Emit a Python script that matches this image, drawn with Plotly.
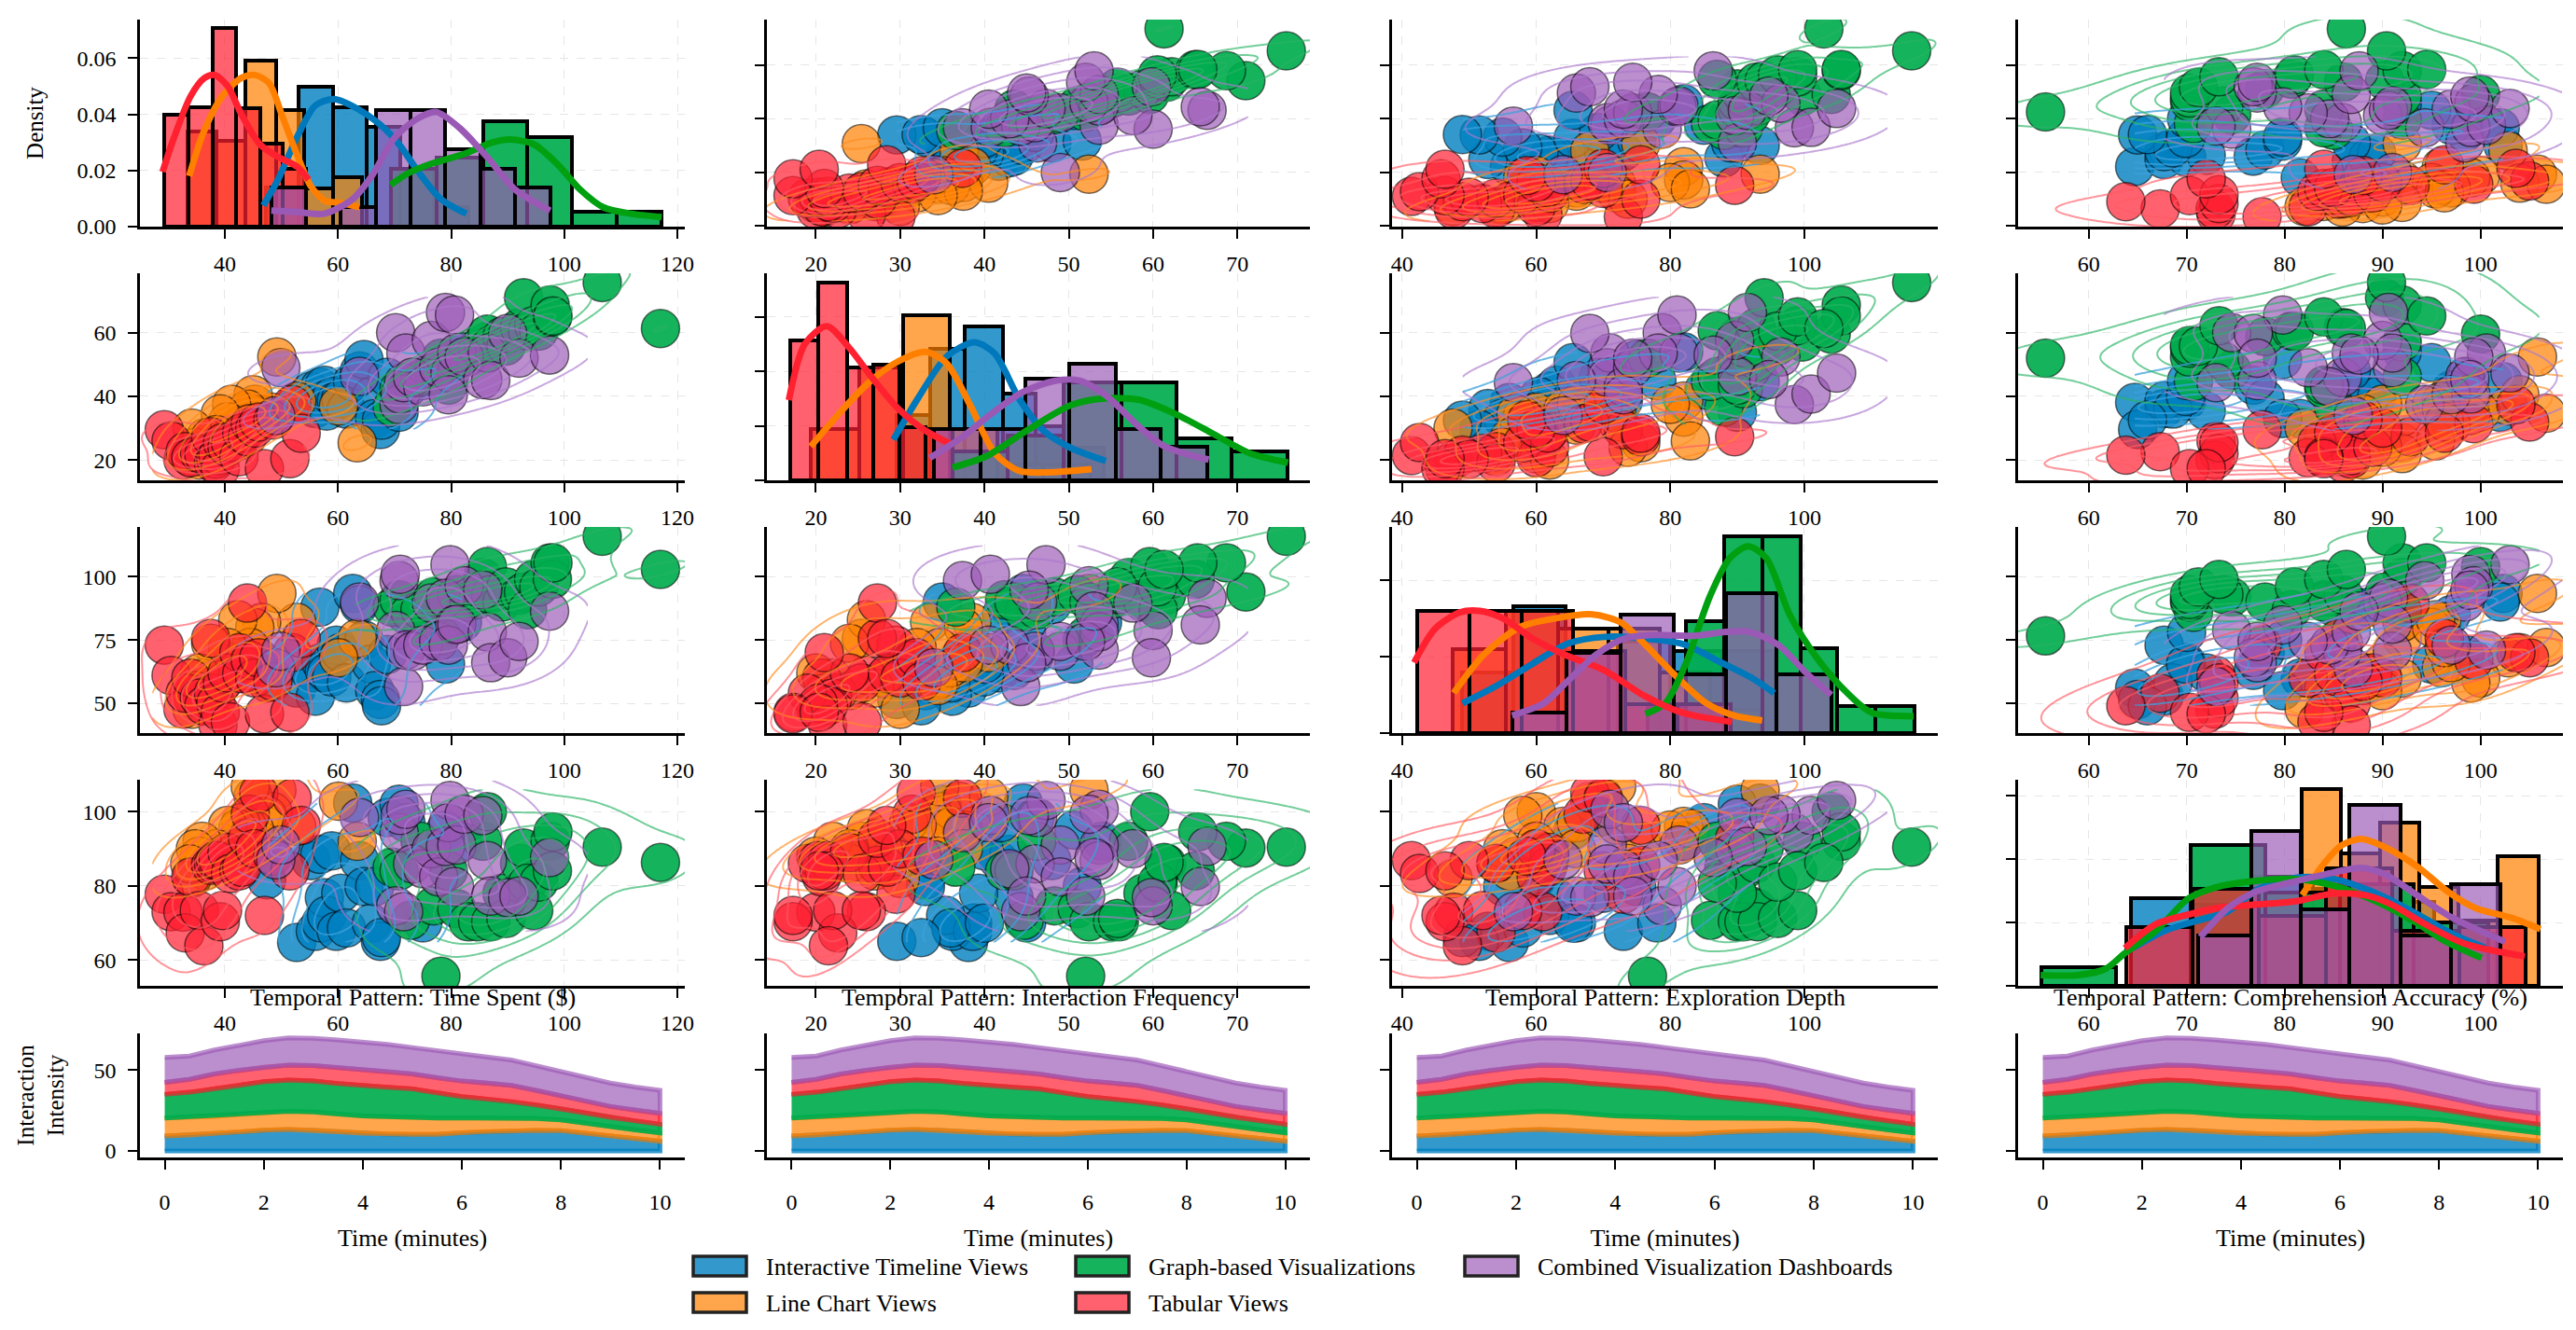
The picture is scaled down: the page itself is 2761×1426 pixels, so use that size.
import numpy as np
import plotly.graph_objects as go

W, H = 2761, 1426
FONT = "Liberation Serif"

# series order = draw order
names = ["blue", "orange", "green", "red", "purple"]
labels = {"blue": "Interactive Timeline Views", "orange": "Line Chart Views", "green": "Graph-based Visualizations",
          "red": "Tabular Views", "purple": "Combined Visualization Dashboards"}
fills = {"blue": "rgba(0,128,192,0.8)", "orange": "rgba(255,128,0,0.7)", "green": "rgba(0,172,78,0.92)",
         "red": "rgba(255,32,48,0.7)", "purple": "rgba(155,89,182,0.68)"}
lines = {"blue": "#0078BC", "orange": "#FF8000", "green": "#00A010", "red": "#FF2030", "purple": "#9B59B6"}
contour_colors = {"blue": "rgba(60,160,220,0.75)", "orange": "rgba(255,140,30,0.65)", "green": "rgba(40,180,100,0.65)",
                  "red": "rgba(255,90,100,0.65)", "purple": "rgba(170,120,205,0.65)"}
contour_cut = {"blue": 0, "orange": 1.5, "green": 1, "red": 1.5, "purple": 1}

# points, one row per session
blue_time = [47.4,52.7,55.2,56,56.8,57,57.6,58,58.9,59.7,60.5,61.5,62.6,63.8,64.6,65.9,66.5,67.5,67.7,68.7,70.8,72,75,79,82]
blue_freq = [33,38.1,41.7,36.2,42.9,38.6,43.5,35.4,40,38.6,39.3,36,44.6,48,51.6,40,33,29.6,32.5,46,35,42,45,50.6,54]
blue_depth = [60,56,62,52.8,88,66,63,62,60.4,73,70,58,93.4,89,75,65.5,55,51.5,49,69.3,90,85,78,65.5,82]
blue_acc = [81.6,64.7,86.8,67.7,88.5,70,76.8,72,89.4,67.7,78,68.6,102.3,86.8,79.8,69.9,79.8,65,66,98.4,102,97,70,95,92]

orange_time = [63.4,60.1,52.7,49.2,48.5,47.5,46.5,45.3,45,44.5,44,43.5,42.8,42.3,41.2,40.5,39.2,38.5,37.5,36.5,36,35.5,34.8,34.2,33.8]
orange_freq = [25.4,37,38.5,52.4,35,34,33.5,37.5,40.5,34.7,36,29,31,26,37.5,32,34.5,28,24,27,22,20,24,30,21]
orange_depth = [75.6,68,82,93.4,60,58,82,80,70,72,64,62,66,83,66,72,57,60,73.7,56,60,62,55,47.6,54]
orange_acc = [92,102.8,96,105.8,100,99,92,95,104,106.7,96,88,97,95.4,90,96.3,88,90,86,84,92,88,90,82,85.9]

green_time = [69.6,70.8,72.8,74.5,76.9,78.2,79.5,81,83,84.7,85.6,86.4,87,89,89.7,92.1,92.8,93.5,94.6,95.5,97.5,97.9,98,106.7,117]
green_freq = [36.6,42.4,44.7,46.2,48.3,52,43.5,51,52.4,55.2,57.1,59.6,56,58.8,55.8,61.6,71,60.6,62.2,60.5,68.7,65,65.3,75.8,61.3]
green_depth = [88,90.9,86,87,92,76.6,90,93,90,91,99.7,104,93,90,96,92.8,94,87,99,96,105.5,99,105.5,116,102.9]
green_acc = [85,84,70.7,92,74.6,55.6,84,73.8,70.3,70.3,92,100,70.3,78,71.2,86,90.2,80.7,73.3,81,92,84,94.5,90.4,86.3]

red_time = [29.3,30.5,32.6,33,34,35.5,36.3,37.5,38,38.4,38.8,39.2,39.6,40.4,41,42.5,43,44,44.5,45.3,46,47,48.5,51.5,51.9,53.5]
red_freq = [29.5,26,20,22.6,20.7,22,21.5,27.3,19,20.3,21.4,17.3,25.4,24,25.5,21,28.5,27.3,31.4,30,31.9,17.3,32.6,20.4,37.4,28.4]
red_depth = [73,61,47.7,54,60,52,49,75.6,54,50,41.4,46.4,58,62,42.6,70,61.7,89.6,67,60,68,45.8,58.6,46.4,70,75.6]
red_acc = [77.7,73,72.9,67.3,82.4,73.3,63.8,85.5,86,86.8,86.8,70.3,73.3,89,83.3,84,85,92.8,99.3,90,105,72,88,84,103.6,96.3]

purple_time = [49,49.9,63.8,70.2,70.8,71,71.6,72,73.2,75,76.5,77.8,79.8,79,80.6,79.5,81,82.3,85.6,86.4,87,90,92,97.4]
purple_freq = [34,49,46.3,60,37.4,40.7,44.3,53.6,46,43,57.6,49,47.3,66.4,65.6,40.5,53.6,52.4,45.3,53.6,45,59.8,52,53]
purple_depth = [64,70.6,90,78.8,98.5,101,56.6,71,70.6,73,89.6,74.4,104.8,91.5,81,73,81.3,96.5,94.7,78.2,66,68,74.4,86.4]
purple_acc = [87,91,98.4,74.6,94.3,99,73,100.6,85.9,84.6,90,82.4,103,90.6,79.8,97,91,99.3,98.9,86.8,77.2,76.8,77.2,87.6]

# histogram bars
time_blue_edges = [47.2,53.1,59.2,65,71,77,83]
time_blue_heights = [.0138,.0497,.0425,.0356,.0207,.0069]
time_orange_edges = [33.4,38.5,43.6,49,54,59.2,64.3]
time_orange_heights = [.034,.0305,.0592,.0415,.0135,.0175]
time_green_edges = [69.3,77.4,85.6,93.4,101.4,109.2,117.2]
time_green_heights = [.0207,.0247,.0374,.0318,.0052,.0052]
time_red_edges = [29.3,33.6,37.8,42,46.2,50.3,54.4]
time_red_heights = [.0398,.0425,.0706,.042,.0295,.0205]
time_purple_edges = [48.2,54.4,60.5,66.7,72.8,79,85.2,91.3,97.5]
time_purple_heights = [.0138,0,.0069,.0414,.0414,.0276,.0207,.0138]

freq_blue_edges = [29.6,33.6,37.7,42.2,46.1,50.1,54.2]
freq_blue_heights = [.0241,.0482,.0565,.0318,.02,.012]
freq_orange_edges = [19.4,25.1,30.3,35.9,41.5,47,52.6]
freq_orange_heights = [.0188,.0412,.0606,.0188,.0059,.0059]
freq_green_edges = [36.2,42.8,49.4,56.2,62.8,69.3,75.9]
freq_green_heights = [.0106,.0165,.0359,.0359,.0153,.0106]
freq_red_edges = [17,20.3,23.7,26.8,29.9,33,36.2]
freq_red_heights = [.0512,.0724,.0412,.0424,.0194,.0188]
freq_purple_edges = [34,39.5,44.8,50.1,55.6,60.9,66.4]
freq_purple_heights = [.0188,.0188,.0371,.0429,.0188,.0124]

depth_blue_edges = [48.9,56.6,64.4,72.2,80,87.7,95.5]
depth_blue_heights = [.016,.0332,.0214,.024,.0214,.0214]
depth_orange_edges = [47.6,55.5,63.3,70.8,78.4,85.9,93.4]
depth_orange_heights = [.0219,.032,.0273,.0273,.016,.0062]
depth_green_edges = [76.6,82.3,88,93.7,99.4,104.9,110.6,116.4]
depth_green_heights = [.0072,.0294,.0516,.0516,.0222,.0072,.0072]
depth_red_edges = [42.2,50,57.9,65.5,73.3,81.1,89]
depth_red_heights = [.032,.032,.032,.0214,.0075,.0075]
depth_purple_edges = [56.4,64.5,72.6,80.5,88.3,95.8,104]
depth_purple_heights = [.0054,.021,.0311,.0155,.0366,.0155]

acc_blue_edges = [64.3,70.5,76.7,82.9,89.1,95.3,101.5]
acc_blue_heights = [.0276,.0255,.0345,.0305,.0265,.0165]
acc_orange_edges = [81.7,85.7,89.7,93.7,97.7,101.7,105.9]
acc_orange_heights = [.062,.0418,.0514,.0311,.0205,.0408]
acc_green_edges = [55.2,62.8,70.4,78,85.6,93.2,100.8]
acc_green_heights = [.0058,0,.0443,.0295,.032,.02]
acc_red_edges = [63.8,70.6,77.4,84.2,91,97.8,104.6]
acc_red_heights = [.0184,.0306,.022,.0372,.0174,.0184]
acc_purple_edges = [71.2,76.6,81.6,86.6,91.8,97,102]
acc_purple_heights = [.0159,.0489,.024,.057,.0159,.0321]

# density curves
time_blue_kx = [46.8,49.4,52.7,56,59.3,63.4,67.5,70.8,74,78.2,82.7]
time_blue_ky = [.0075,.0167,.0316,.0431,.0454,.042,.0362,.0293,.0201,.0098,.0046]
time_orange_kx = [33.7,36.3,39.6,42.9,45.3,47.8,50.3,52.7,55.2,57.7,60.1,63.8]
time_orange_ky = [.018,.0339,.0466,.0529,.054,.0511,.0385,.0259,.0144,.0092,.0086,.0069]
time_green_kx = [69.3,72.4,76.5,82.3,87.2,90.5,94.6,98.7,102.8,106.9,111.8,117.2]
time_green_ky = [.0149,.019,.0224,.0259,.0299,.031,.0293,.0224,.0132,.0069,.0046,.0034]
time_red_kx = [29,31,34,36.4,38.2,40.5,43,46.2,49.5,52.8,54.8]
time_red_ky = [.0195,.0316,.0466,.0529,.054,.05,.0397,.0293,.0247,.0213,.0167]
time_purple_kx = [48.2,52.7,57.6,62.6,65.9,70,74.1,77.4,81.5,86.4,91.3,97.5]
time_purple_ky = [.0057,.0052,.0046,.0098,.0178,.0316,.0385,.0408,.0351,.0247,.0132,.0057]

freq_blue_kx = [29.2,32.1,35.5,38.8,41.2,44.1,47,50.3,54.4]
freq_blue_ky = [.0149,.03,.0453,.0506,.0465,.03,.0182,.0118,.0071]
freq_orange_kx = [19.4,23,26.3,29.7,33,35.5,38.3,41.2,44.1,47.4,52.7]
freq_orange_ky = [.0124,.0253,.0359,.0435,.0471,.0429,.0276,.01,.0035,.0029,.0041]
freq_green_kx = [36.2,40.2,45,50.3,54.2,58.5,62.8,67.1,71.4,76]
freq_green_ky = [.0047,.0088,.0182,.0276,.03,.0294,.0241,.0171,.01,.0065]
freq_red_kx = [16.8,18.7,21.3,23.9,26.8,29.7,33,35.9]
freq_red_ky = [.0294,.05,.0565,.0488,.0371,.0265,.0182,.0135]
freq_purple_kx = [33.5,37.4,40.7,44.6,48.4,51.3,54.6,58,61.4,66.6]
freq_purple_ky = [.0082,.0159,.0241,.0324,.0365,.0365,.0306,.0206,.0124,.0076]

depth_blue_kx = [49,53.9,59.4,64.8,70.2,76.3,82.3,87.1,91.9,95.5]
depth_blue_ky = [.0078,.0122,.0181,.0235,.0252,.0248,.0231,.0189,.0147,.0105]
depth_orange_kx = [47.7,52.2,57.6,62.4,68.4,72.6,76.3,80.5,85.3,89.5,93.7]
depth_orange_ky = [.0105,.0206,.0278,.0299,.0311,.029,.0231,.0155,.0079,.0046,.0033]
depth_green_kx = [76.3,79.3,82.3,85.9,88.9,91.6,94.3,97.9,102.2,106.4,110,116.3]
depth_green_ky = [.005,.0079,.0181,.0358,.0459,.0489,.0459,.0307,.0189,.0105,.0054,.0044]
depth_red_kx = [41.8,44.9,48.6,51.6,55.2,59.4,64.2,70.2,76.3,81.7,89.2]
depth_red_ky = [.0185,.0273,.0316,.032,.0299,.0248,.0206,.0164,.0096,.0054,.0029]
depth_purple_kx = [56.4,61.2,64.8,69,73.2,77.5,83.5,88.3,91.9,96.1,100.4,104]
depth_purple_ky = [.0046,.0079,.0138,.0206,.0248,.0257,.0255,.0265,.0265,.0231,.0155,.01]

acc_blue_kx = [64.5,67.8,71,74.2,77.4,81.4,85,89,93,97.1,100.5]
acc_blue_ky = [.0119,.0174,.0205,.0235,.0306,.0342,.0337,.0296,.0235,.0164,.0119]
acc_orange_kx = [81.8,83.8,85.8,87.8,90.2,93.5,96.7,99.5,103.1,106.1]
acc_orange_ky = [.0286,.0377,.0443,.0463,.0438,.0377,.0296,.0245,.0215,.0179]
acc_green_kx = [55.1,58.9,61.7,63.7,66.9,70.2,73,77,81,85,89,93.1,96.5,100.1]
acc_green_ky = [.0034,.0034,.0053,.0103,.0174,.0276,.0311,.0331,.0337,.0316,.0271,.0205,.0139,.0088]
acc_red_kx = [63.7,66.9,70.2,73,76.6,81,85,88.2,91,94.3,98.3,104.5]
acc_red_ky = [.0119,.0195,.0225,.0245,.0255,.0266,.0291,.0286,.0255,.0195,.0134,.0093]
acc_purple_kx = [71.4,74.2,77,80.6,84.2,87.8,90.2,93.5,97.1,102.5]
acc_purple_ky = [.0154,.0245,.0296,.0326,.0352,.0372,.0352,.0286,.0215,.0139]

# stacked temporal pattern, layer thickness per half minute
minutes = [0,.5,1,1.5,2,2.5,3,3.5,4,4.5,5,5.5,6,6.5,7,7.5,8,8.5,9,9.5,10]
blue_layer = [9.2,9.8,10.7,11.7,12.8,13.3,12.8,11.8,10.9,10.4,10.2,10.3,11.3,12.0,12.5,12.7,12.5,10.9,9.2,7.7,6.0]
orange_layer = [11.1,10.8,10.6,10.7,10.8,11.1,11.3,11.0,10.7,10.6,10.3,10.0,9.0,8.3,7.8,7.3,6.7,6.3,5.7,5.3,5.1]
green_layer = [14.6,15.6,17.0,18.2,19.1,19.3,19.0,18.8,18.6,18.3,17.8,15.5,13.2,11.7,10.2,8.4,6.8,6.1,5.8,5.5,5.4]
red_layer = [7.4,8.0,9.2,9.2,9.0,9.2,9.6,9.7,9.8,9.6,9.2,9.4,9.6,9.9,9.9,9.0,8.1,7.4,6.7,6.7,6.7]
purple_layer = [15.4,14.4,14.8,15.6,16.3,16.8,16.8,17.2,17.2,16.8,16.3,16.5,16.3,16.1,15.7,15.3,15.1,14.9,14.5,14.2,14.2]

pattern_titles = ["Temporal Pattern: Time Spent ($)", "Temporal Pattern: Interaction Frequency",
                  "Temporal Pattern: Exploration Depth", "Temporal Pattern: Comprehension Accuracy (%)"]

variables = ["time", "freq", "depth", "acc"]
x_ranges = {"time": [25, 121.3], "freq": [14.2, 78.6], "depth": [38.5, 119.9], "acc": [52.8, 108.4]}
y_ranges = {"time": [24.7, 121.3], "freq": [13.6, 78.7], "depth": [38.2, 119.7], "acc": [53, 108.6]}
x_ticks = {"time": [40,60,80,100,120], "freq": [20,30,40,50,60,70], "depth": [40,60,80,100], "acc": [60,70,80,90,100]}
y_ticks = {"time": [25,50,75,100], "freq": [20,40,60], "depth": [50,75,100], "acc": [60,80,100]}
diag_top = {"time": .0737, "freq": .0759, "depth": .054, "acc": .065}
diag_ticks = {"time": [0,.02,.04,.06], "freq": [0,.02,.04,.06], "depth": [0,.02,.04], "acc": [0,.02,.04,.06]}

lefts = [150, 822, 1492, 2163]
rights = [734, 1404, 2077, 2747]
tops = [21, 293, 565, 836, 1108]
bottoms = [243, 515, 786, 1057, 1241]


def scott_kde(xs, ys, cut, n=90):
    pts = np.array([xs, ys], float)
    f = pts.shape[1] ** (-1 / 6)
    cov = np.cov(pts) * f * f
    sx, sy = np.sqrt(cov[0, 0]), np.sqrt(cov[1, 1])
    gx = np.linspace(pts[0].min() - cut * sx, pts[0].max() + cut * sx, n)
    gy = np.linspace(pts[1].min() - cut * sy, pts[1].max() + cut * sy, n)
    xx, yy = np.meshgrid(gx, gy)
    inv = np.linalg.inv(cov)
    z = np.zeros_like(xx)
    for px, py in pts.T:
        dx, dy = xx - px, yy - py
        z += np.exp(-0.5 * (inv[0, 0] * dx * dx + 2 * inv[0, 1] * dx * dy + inv[1, 1] * dy * dy))
    return gx, gy, z


def axis_style(**kw):
    style = dict(showline=True, linecolor="black", linewidth=2.5, ticks="outside", ticklen=10, tickwidth=2,
                 tickcolor="black", zeroline=False, showgrid=True, gridcolor="#E6E6E6", gridwidth=1, griddash="dash",
                 tickfont=dict(family=FONT, size=24, color="black"), layer="above traces", automargin=False)
    style.update(kw)
    return style


fig = go.Figure()
layout = {}

for r in range(4):
    for c in range(4):
        n = r * 4 + c + 1
        vx, vy = variables[c], variables[r]
        xname, yname = f"x{n}" if n > 1 else "x", f"y{n}" if n > 1 else "y"
        xkey, ykey = f"xaxis{n}" if n > 1 else "xaxis", f"yaxis{n}" if n > 1 else "yaxis"
        xdom = [lefts[c] / W, rights[c] / W]
        ydom = [1 - bottoms[r] / H, 1 - tops[r] / H]
        is_diag = r == c
        yr = [0, diag_top[vx]] if is_diag else y_ranges[vy]
        yt = diag_ticks[vx] if is_diag else y_ticks[vy]
        show_y = c == 0 and (r > 0 or is_diag)
        layout[xkey] = axis_style(domain=xdom, range=x_ranges[vx], tickvals=x_ticks[vx], anchor=yname,
                                  ticklabelstandoff=6)
        layout[ykey] = axis_style(domain=ydom, range=yr, tickvals=yt, anchor=xname, showticklabels=show_y,
                                  ticklabelstandoff=8)
        if r == 0 and c == 0:
            layout[ykey]["tickformat"] = ".2f"
            layout[ykey]["title"] = dict(text="Density", font=dict(family=FONT, size=25, color="black"), standoff=29)
        if is_diag:
            for s in names:
                edges = np.array(globals()[f"{vx}_{s}_edges"])
                fig.add_trace(go.Bar(x=(edges[:-1] + edges[1:]) / 2, y=globals()[f"{vx}_{s}_heights"],
                                     width=np.diff(edges), xaxis=xname, yaxis=yname, showlegend=False,
                                     marker=dict(color=fills[s], line=dict(color="black", width=4))))
            for s in names:
                fig.add_trace(go.Scatter(x=globals()[f"{vx}_{s}_kx"], y=globals()[f"{vx}_{s}_ky"], mode="lines",
                                         line=dict(color=lines[s], width=7, shape="spline", smoothing=0.8),
                                         xaxis=xname, yaxis=yname, showlegend=False))
        else:
            for s in names:
                fig.add_trace(go.Scatter(x=globals()[f"{s}_{vx}"], y=globals()[f"{s}_{vy}"], mode="markers",
                                         marker=dict(size=41, color=fills[s], line=dict(color="rgba(0,0,0,0.55)", width=1.5)),
                                         xaxis=xname, yaxis=yname, showlegend=False))
            # contours have to sit above the markers, so they go on an overlay pair of axes
            on = n + 20
            layout[f"xaxis{on}"] = dict(domain=xdom, range=x_ranges[vx], overlaying=xname, anchor=f"y{on}", visible=False)
            layout[f"yaxis{on}"] = dict(domain=ydom, range=yr, overlaying=yname, anchor=f"x{on}", visible=False)
            for s in names:
                gx, gy, z = scott_kde(globals()[f"{s}_{vx}"], globals()[f"{s}_{vy}"], contour_cut[s])
                lo, hi = z.max() * 0.1, z.max() * 0.85
                fig.add_trace(go.Contour(x=gx, y=gy, z=z, xaxis=f"x{on}", yaxis=f"y{on}", showscale=False,
                                         colorscale=[[0, contour_colors[s]], [1, contour_colors[s]]],
                                         contours=dict(coloring="lines", start=lo, end=hi, size=(hi - lo) / 4),
                                         line=dict(width=2), hoverinfo="skip", showlegend=False))

# bottom row, the same stack four times
for c in range(4):
    n = 17 + c
    xname, yname = f"x{n}", f"y{n}"
    layout[f"xaxis{n}"] = axis_style(domain=[lefts[c] / W, rights[c] / W], range=[-0.5, 10.5], tickvals=[0,2,4,6,8,10],
                                     anchor=yname, ticklabelstandoff=14, showgrid=False,
                                     title=dict(text="Time (minutes)", font=dict(family=FONT, size=26, color="black"), standoff=18))
    layout[f"yaxis{n}"] = axis_style(domain=[1 - bottoms[4] / H, 1 - tops[4] / H], range=[-4, 72.5], tickvals=[0, 50],
                                     anchor=xname, showgrid=False, showticklabels=c == 0, ticklabelstandoff=8)
    if c == 0:
        layout[f"yaxis{n}"]["title"] = dict(text="Interaction<br>Intensity", font=dict(family=FONT, size=25, color="black"), standoff=25)
    base = np.zeros(len(minutes))
    for s in names:
        top = base + np.array(globals()[f"{s}_layer"])
        fig.add_trace(go.Scatter(x=minutes + minutes[::-1], y=list(top) + list(base[::-1]), mode="lines", fill="toself",
                                 fillcolor=fills[s], line=dict(color=fills[s], width=5), xaxis=xname, yaxis=yname,
                                 showlegend=False))
        base = top

annotations = []
for c, title in enumerate(pattern_titles):
    annotations.append(dict(text=title, xref="paper", yref="paper", x=(lefts[c] + rights[c]) / 2 / W, y=1 - 1069 / H,
                            showarrow=False, xanchor="center", yanchor="middle",
                            font=dict(family=FONT, size=26, color="black")))

# legend: three columns, filled top to bottom
shapes = []
legend_pos = {"blue": (743, 1347), "orange": (743, 1386), "green": (1153, 1347), "red": (1153, 1386), "purple": (1570, 1347)}
for s, (px, py) in legend_pos.items():
    shapes.append(dict(type="rect", xref="paper", yref="paper", x0=px / W, x1=(px + 57) / W, y0=1 - py / H, y1=1 - (py + 21) / H,
                       fillcolor=fills[s], line=dict(color="#222222", width=3.5)))
    annotations.append(dict(text=labels[s], xref="paper", yref="paper", x=(px + 76) / W, y=1 - (py + 11) / H, showarrow=False,
                            xanchor="left", yanchor="middle", font=dict(family=FONT, size=26, color="black")))

fig.update_layout(width=W, height=H, margin=dict(l=0, r=0, t=0, b=0), autosize=False, barmode="overlay", bargap=0,
                  paper_bgcolor="white", plot_bgcolor="white", showlegend=False, hovermode=False,
                  annotations=annotations, shapes=shapes, **layout)
fig.write_html("out.html", config={"displayModeBar": False},
               post_script="document.body.style.margin='0';document.body.style.overflow='hidden';")
